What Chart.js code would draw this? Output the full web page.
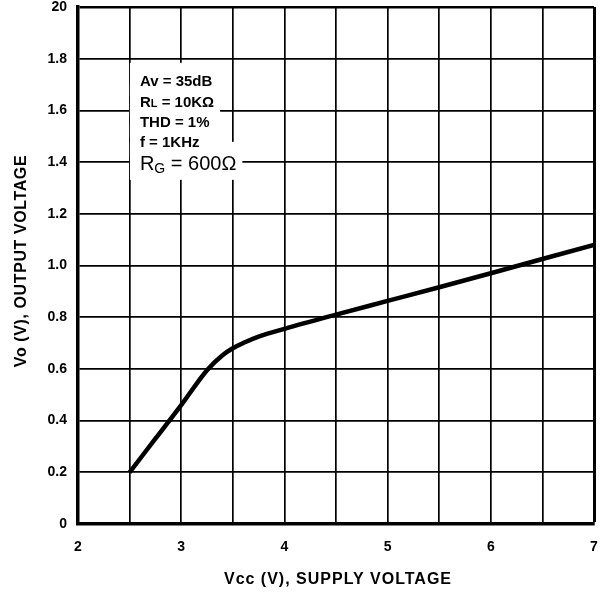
<html>
<head>
<script src="https://cdn.jsdelivr.net/npm/chart.js"></script>
<style>
  html, body { margin: 0; padding: 0; background: #fff; }
  #wrap { width: 610px; height: 594px; }
</style>
</head>
<body>
<div id="wrap"><canvas id="chart" width="610" height="594"></canvas></div>
<script>
  // supply voltage (V) and output voltage (V)
  const vcc = [2.5, 2.75, 3.0, 3.25, 3.4, 3.5, 3.6, 3.75, 4.0, 4.5, 5.0, 5.5, 6.0, 6.5, 7.0];
  const vo = [0.2, 0.33, 0.46, 0.595, 0.653, 0.68, 0.7, 0.725, 0.755, 0.81, 0.863, 0.916, 0.97, 1.025, 1.08];

  const xTickLabels = { 2: '2', 3: '3', 4: '4', 5: '5', 6: '6', 7: '7' };
  const yTickLabels = ['0', '0.2', '0.4', '0.6', '0.8', '1.0', '1.2', '1.4', '1.6', '1.8', '20'];

  const xTitle = 'Vcc (V), SUPPLY VOLTAGE';
  const yTitle = 'Vo (V), OUTPUT VOLTAGE';

  const FONT = '"Liberation Sans", Arial, sans-serif';

  // axis titles drawn by hand so the letter spacing can match the scan
  const titlePlugin = {
    id: 'titles',
    afterDraw(chart) {
      const c = chart.ctx;
      const a = chart.chartArea;
      c.save();
      c.fillStyle = '#000';
      c.textAlign = 'center';
      c.textBaseline = 'middle';
      c.font = 'bold 16px ' + FONT;
      c.letterSpacing = '1px';
      c.fillText(xTitle, (a.left + a.right) / 2 + 2, 580);
      c.letterSpacing = '0.6px';
      c.translate(22, 261);
      c.rotate(-Math.PI / 2);
      c.fillText(yTitle, 0, 0);
      c.restore();
    }
  };

  // text block with the test conditions, on white so it cuts the grid
  const notePlugin = {
    id: 'note',
    afterDatasetsDraw(chart) {
      const c = chart.ctx;
      const x = chart.scales.x.getPixelForValue(2.6);
      const y0 = chart.scales.y.getPixelForValue(1.695);
      const rows = [
        { main: 'Av', sub: '', rest: ' = 35dB', size: 15, w: 'bold ', dy: 0 },
        { main: 'R', sub: 'L', rest: ' = 10KΩ', size: 15, w: 'bold ', dy: 21 },
        { main: 'THD', sub: '', rest: ' = 1%', size: 15, w: 'bold ', dy: 41 },
        { main: 'f', sub: '', rest: ' = 1KHz', size: 15, w: 'bold ', dy: 61 },
        { main: 'R', sub: 'G', rest: ' = 600Ω', size: 20, w: '', dy: 84 }
      ];
      const measure = r => {
        c.font = r.w + r.size + 'px ' + FONT;
        let w = c.measureText(r.main + r.rest).width;
        c.font = r.w + Math.round(r.size * 0.7) + 'px ' + FONT;
        return w + c.measureText(r.sub).width;
      };
      c.save();
      c.textBaseline = 'alphabetic';
      c.textAlign = 'left';
      c.fillStyle = '#fff';
      rows.forEach(r => {
        const by = y0 + r.dy;
        c.fillRect(x - 10, by - r.size - 8, measure(r) + 16, r.size + 18);
      });
      c.fillStyle = '#000';
      rows.forEach(r => {
        const by = y0 + r.dy;
        let cx = x;
        c.font = r.w + r.size + 'px ' + FONT;
        c.fillText(r.main, cx, by);
        cx += c.measureText(r.main).width;
        if (r.sub) {
          c.font = r.w + Math.round(r.size * 0.7) + 'px ' + FONT;
          c.fillText(r.sub, cx, by + (r.size > 15 ? 3 : 0));
          cx += c.measureText(r.sub).width;
        }
        c.font = r.w + r.size + 'px ' + FONT;
        c.fillText(r.rest, cx, by);
      });
      c.restore();
    }
  };

  new Chart(document.getElementById('chart'), {
    type: 'line',
    data: {
      labels: vcc,
      datasets: [{
        data: vcc.map((v, i) => ({ x: v, y: vo[i] })),
        borderColor: '#000',
        borderWidth: 4.5,
        pointRadius: 0,
        cubicInterpolationMode: 'monotone',
        fill: false
      }]
    },
    options: {
      responsive: false,
      animation: false,
      layout: { padding: { top: 7, right: 16, left: 0, bottom: 0 } },
      plugins: { legend: { display: false }, tooltip: { enabled: false } },
      scales: {
        x: {
          type: 'linear',
          min: 2, max: 7,
          afterFit(s) { s.height = 70; s.paddingLeft = 0; s.paddingRight = 0; },
          ticks: {
            stepSize: 0.5,
            autoSkip: false,
            maxRotation: 0,
            padding: 15,
            color: '#000',
            font: { family: FONT, size: 14, weight: 'bold' },
            callback: v => xTickLabels[v] || ''
          },
          grid: {
            color: '#000',
            drawTicks: false,
            lineWidth: ctx => (ctx.tick && ctx.tick.value === 7 ? 3 : 1.7)
          },
          border: { color: '#000', width: 3.5 },
          title: { display: false }
        },
        y: {
          type: 'linear',
          min: 0, max: 2,
          afterFit(s) { s.width = 78; s.paddingTop = 0; s.paddingBottom = 0; },
          ticks: {
            stepSize: 0.2,
            padding: 11,
            color: '#000',
            font: { family: FONT, size: 14, weight: 'bold' },
            callback: (v, i) => yTickLabels[i]
          },
          grid: {
            color: '#000',
            drawTicks: false,
            lineWidth: ctx => (ctx.tick && Math.abs(ctx.tick.value - 2) < 1e-6 ? 2.5 : 1.7)
          },
          border: { color: '#000', width: 3.5 },
          title: { display: false }
        }
      }
    },
    plugins: [notePlugin, titlePlugin]
  });
</script>
</body>
</html>
